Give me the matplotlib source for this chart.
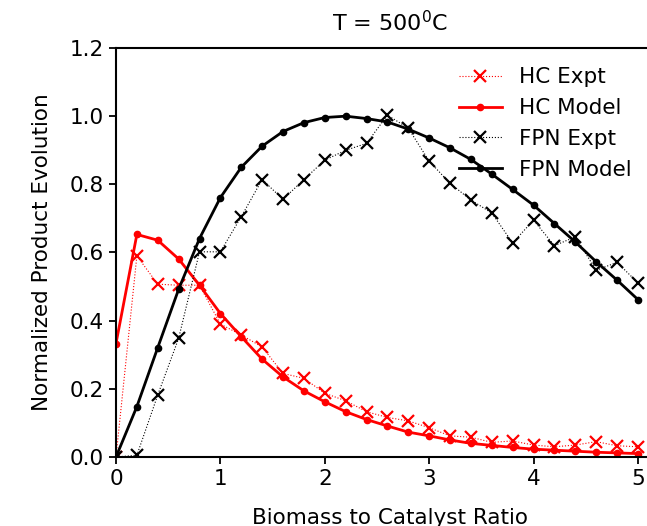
import numpy as np
import matplotlib
matplotlib.use('Agg')
import matplotlib.pyplot as plt

ratio = np.round(np.arange(0, 5.01, 0.2), 1)

hc_expt = [0.0, 0.59, 0.507, 0.504, 0.504, 0.39, 0.358, 0.323, 0.245, 0.231,
           0.187, 0.165, 0.133, 0.116, 0.106, 0.086, 0.062, 0.058, 0.043, 0.047,
           0.035, 0.030, 0.035, 0.045, 0.033, 0.030]
hc_model = [0.333, 0.653, 0.636, 0.581, 0.504, 0.421, 0.353, 0.287, 0.235, 0.194,
            0.162, 0.133, 0.110, 0.091, 0.073, 0.062, 0.050, 0.040, 0.034, 0.028,
            0.023, 0.020, 0.017, 0.014, 0.012, 0.010]
fpn_expt = [0.0, 0.005, 0.182, 0.348, 0.602, 0.602, 0.705, 0.814, 0.756, 0.814,
            0.871, 0.900, 0.920, 1.003, 0.965, 0.868, 0.803, 0.754, 0.716, 0.628,
            0.695, 0.620, 0.646, 0.548, 0.571, 0.511]
fpn_model = [0.0, 0.148, 0.321, 0.492, 0.641, 0.761, 0.850, 0.912, 0.955, 0.981,
             0.996, 1.0, 0.993, 0.983, 0.962, 0.936, 0.907, 0.873, 0.830, 0.785,
             0.739, 0.685, 0.631, 0.573, 0.519, 0.462]

plt.rcParams['font.size'] = 15.5

fig = plt.figure(figsize=(6.47, 5.26), dpi=100)
# axes runs past the right edge of the canvas (cropped figure)
ax = fig.add_axes([116 / 647, 69 / 526, 548 / 647, 409 / 526])

ax.plot(ratio, hc_expt, ':', color='red', lw=0.8, marker='x', ms=8.5, mew=1.6,
        label='HC Expt')
ax.plot(ratio, hc_model, '-', color='red', lw=2, marker='o', ms=4.5,
        label='HC Model')
ax.plot(ratio, fpn_expt, ':', color='black', lw=0.8, marker='x', ms=8.5, mew=1.6,
        label='FPN Expt')
ax.plot(ratio, fpn_model, '-', color='black', lw=2, marker='o', ms=4.5,
        label='FPN Model')

ax.set_xlim(0, 5.25)
ax.set_ylim(0, 1.2)
ax.set_xticks([0, 1, 2, 3, 4, 5])
ax.set_yticks(np.arange(0, 1.21, 0.2))
ax.set_xlabel('Biomass to Catalyst Ratio', labelpad=14)
ax.set_ylabel('Normalized Product Evolution', labelpad=13)
ax.set_title('T = 500$^0$C', fontsize=16, pad=12)

for s in ax.spines.values():
    s.set_linewidth(1.5)
ax.tick_params(width=1.3, length=5)

ax.legend(loc='upper left', bbox_to_anchor=(0.59, 1.0), frameon=False,
          fontsize=15.5)

fig.savefig('out.png', dpi=100)
